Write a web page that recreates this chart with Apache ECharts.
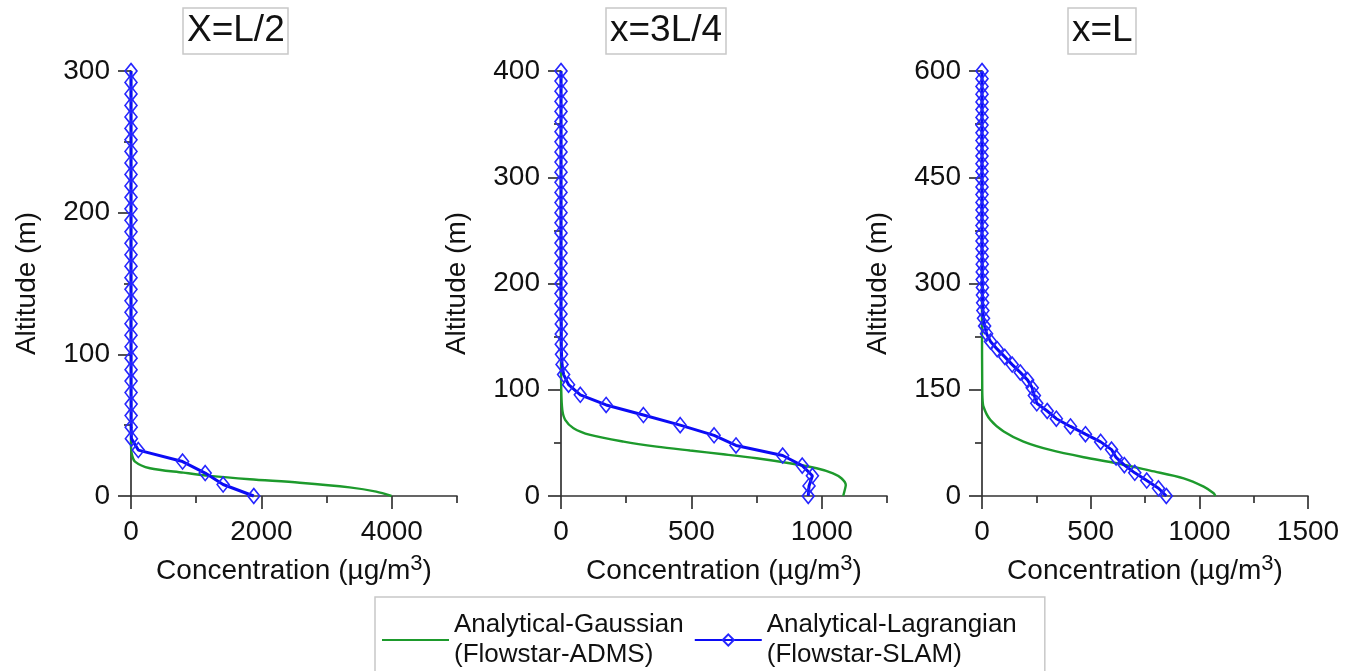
<!DOCTYPE html>
<html>
<head>
<meta charset="utf-8">
<script src="https://cdn.jsdelivr.net/npm/echarts@6/dist/echarts.min.js"></script>
<style>
  html, body { margin: 0; padding: 0; background: #fff; }
  #chart { width: 1349px; height: 671px; }
</style>
</head>
<body>
<div id="chart"></div>
<script>
// Panel titles (downstream distance)
const panelTitles = ['X=L/2', 'x=3L/4', 'x=L'];

// Series names
const gaussName = 'Analytical-Gaussian\n(Flowstar-ADMS)';
const slamName = 'Analytical-Lagrangian\n(Flowstar-SLAM)';

// --- x = L/2 ---
const gaussAltHalf  = [0, 3.1, 6.1, 9.4, 11.8, 14.2, 16.5, 19.6, 24.3, 30.2, 37.2, 300];
const gaussConcHalf = [3995, 3761, 3352, 2587, 1822, 1209, 801, 291, 61, 10, 0, 0];
const slamAltHalf  = [0, 8.1, 16.2, 24.3, 32.4, 40.5, 48.6, 56.8, 64.9, 73.0, 81.1, 89.2, 97.3, 105.4,
  113.5, 121.6, 129.7, 137.8, 145.9, 154.1, 162.2, 170.3, 178.4, 186.5, 194.6, 202.7, 210.8, 218.9,
  227.0, 235.1, 243.2, 251.4, 259.5, 267.6, 275.7, 283.8, 291.9, 300.0];
const slamConcHalf = [1883, 1413, 1138, 791, 112, 6, 3, 2, 2, 1, 1, 1, 1, 1,
  0, 0, 0, 0, 0, 0, 0, 0, 0, 0, 0, 0, 0, 0,
  0, 0, 0, 0, 0, 0, 0, 0, 0, 0];

// --- x = 3L/4 ---
const gaussAltTq  = [0, 5.7, 10.4, 16.7, 21.4, 26.1, 30.8, 35.5, 39.3, 42.8, 46.5, 51.2, 57.5, 63.8, 71.7, 81, 100, 135, 400];
const gaussConcTq = [1082, 1088, 1092, 1075, 1043, 980, 877, 750, 622, 495, 367, 240, 112, 48, 16, 5, 1, 0, 0];
const slamAltTq  = [0, 9.5, 19.0, 28.6, 38.1, 47.6, 57.1, 66.7, 76.2, 85.7, 95.2, 104.8, 114.3, 123.8,
  133.3, 142.9, 152.4, 161.9, 171.4, 181.0, 190.5, 200.0, 209.5, 219.0, 228.6, 238.1, 247.6, 257.1,
  266.7, 276.2, 285.7, 295.2, 304.8, 314.3, 323.8, 333.3, 342.9, 352.4, 361.9, 371.4, 381.0, 390.5, 400.0];
const slamConcTq = [948, 951, 964, 925, 850, 671, 587, 457, 316, 173, 74, 29, 10, 4,
  2, 1, 1, 1, 0, 0, 0, 0, 0, 0, 0, 0, 0, 0,
  0, 0, 0, 0, 0, 0, 0, 0, 0, 0, 0, 0, 0, 0, 0];

// --- x = L ---
const gaussAltFull  = [0, 3.8, 13.2, 25, 35.8, 46.2, 54.7, 65, 76.8, 91, 107.5, 126, 140, 160, 230, 600];
const gaussConcFull = [1074, 1066, 1020, 928, 774, 621, 468, 314, 191, 100, 38, 7, 2, 1, 0, 0];
const slamAltFull  = [0, 10.9, 21.8, 32.7, 43.6, 54.5, 65.5, 76.4, 87.3, 98.2, 109.1, 120.0, 130.9, 141.8,
  152.7, 163.6, 174.5, 185.5, 196.4, 207.3, 218.2, 229.1, 240.0, 250.9, 261.8, 272.7, 283.6, 294.5,
  305.5, 316.4, 327.3, 338.2, 349.1, 360.0, 370.9, 381.8, 392.7, 403.6, 414.5, 425.5, 436.4, 447.3,
  458.2, 469.1, 480.0, 490.9, 501.8, 512.7, 523.6, 534.5, 545.5, 556.4, 567.3, 578.2, 589.1, 600.0];
const slamConcFull = [848, 812, 758, 703, 655, 617, 596, 546, 476, 407, 342, 300, 252, 241,
  231, 210, 176, 139, 105, 70, 39, 21, 12, 7, 4, 3, 2, 2,
  1, 1, 1, 1, 0, 0, 0, 0, 0, 0, 0, 0, 0, 0,
  0, 0, 0, 0, 0, 0, 0, 0, 0, 0, 0, 0, 0, 0];

// Axis ranges and tick values
const xMax = [5000, 1250, 1500];
const xMajor = [[0, 2000, 4000], [0, 500, 1000], [0, 500, 1000, 1500]];
const xMinor = [[1000, 3000, 5000], [250, 750, 1250], [250, 750, 1250]];
const yMax = [300, 400, 600];
const yMajor = [[0, 100, 200, 300], [0, 100, 200, 300, 400], [0, 150, 300, 450, 600]];
const yMinor = [[50, 150, 250], [50, 150, 250, 350], [75, 225, 375, 525]];

const profiles = [
  { gA: gaussAltHalf, gC: gaussConcHalf, sA: slamAltHalf, sC: slamConcHalf },
  { gA: gaussAltTq, gC: gaussConcTq, sA: slamAltTq, sC: slamConcTq },
  { gA: gaussAltFull, gC: gaussConcFull, sA: slamAltFull, sC: slamConcFull }
];

const FONT = '"Liberation Sans", Arial, Helvetica, sans-serif';
const INK = '#111';
const AXIS = '#333';
const GREEN = '#1d9a2c';
const BLUE = '#0b0bf5';

const gridLeft = [131, 561, 982];
const gridTop = 71;
const gridW = 326;
const gridH = 425;
const titleLeft = [183, 606, 1068];

const zip = (c, a) => c.map((v, i) => [v, a[i]]);
const plain = v => String(v);

const grids = [], xAxes = [], yAxes = [], series = [], titles = [];

for (let p = 0; p < 3; p++) {
  grids.push({ left: gridLeft[p], top: gridTop, width: gridW, height: gridH, containLabel: false, outerBoundsMode: 'none' });

  titles.push({
    text: panelTitles[p], left: titleLeft[p], top: 8,
    padding: [3, 4, 3, 4], borderColor: '#c8c8c8', borderWidth: 1.5,
    textStyle: { fontFamily: FONT, fontSize: 37, lineHeight: 40, fontWeight: 'normal', color: INK }
  });

  // main x axis: line, long ticks, labels, name
  xAxes.push({
    gridIndex: p, type: 'value', min: 0, max: xMax[p], position: 'bottom',
    axisLine: { show: true, lineStyle: { color: AXIS, width: 1.7 } },
    axisTick: { show: true, length: 13, customValues: xMajor[p], lineStyle: { color: AXIS, width: 1.7 } },
    axisLabel: { show: true, customValues: xMajor[p], formatter: plain, margin: 22, fontSize: 28, fontFamily: FONT, color: INK },
    splitLine: { show: false },
    name: '{t|Concentration (µg/m}{s|3}{t|)}',
    nameLocation: 'middle', nameGap: 57,
    nameTextStyle: {
      rich: {
        t: { fontSize: 28, fontFamily: FONT, color: INK },
        s: { fontSize: 22, fontFamily: FONT, color: INK, padding: [0, 0, 14, 0] }
      }
    }
  });
  // minor x axis: short ticks only
  xAxes.push({
    gridIndex: p, type: 'value', min: 0, max: xMax[p], position: 'bottom',
    axisLine: { show: false },
    axisTick: { show: true, length: 7, customValues: xMinor[p], lineStyle: { color: AXIS, width: 1.7 } },
    axisLabel: { show: false },
    splitLine: { show: false }
  });

  yAxes.push({
    gridIndex: p, type: 'value', min: 0, max: yMax[p], position: 'left',
    axisLine: { show: true, lineStyle: { color: AXIS, width: 1.7 } },
    axisTick: { show: true, length: 13, customValues: yMajor[p], lineStyle: { color: AXIS, width: 1.7 } },
    axisLabel: { show: true, customValues: yMajor[p], formatter: plain, margin: 21, fontSize: 28, fontFamily: FONT, color: INK },
    splitLine: { show: false },
    name: 'Altitude (m)', nameLocation: 'middle', nameGap: 90, nameRotate: 90,
    nameTextStyle: { fontSize: 28, fontFamily: FONT, color: INK }
  });
  yAxes.push({
    gridIndex: p, type: 'value', min: 0, max: yMax[p], position: 'left',
    axisLine: { show: false },
    axisTick: { show: true, length: 7, customValues: yMinor[p], lineStyle: { color: AXIS, width: 1.7 } },
    axisLabel: { show: false },
    splitLine: { show: false }
  });

  const pr = profiles[p];
  series.push({
    name: gaussName, type: 'line', xAxisIndex: p * 2, yAxisIndex: p * 2,
    data: zip(pr.gC, pr.gA), symbol: 'none', clip: false, z: 2, smooth: 0.3,
    color: GREEN, lineStyle: { color: GREEN, width: 2.4 }
  });
  series.push({
    name: slamName, type: 'line', xAxisIndex: p * 2, yAxisIndex: p * 2,
    data: zip(pr.sC, pr.sA), symbol: 'diamond', symbolSize: [12, 15], showSymbol: true, clip: false, z: 3,
    color: BLUE,
    lineStyle: { color: BLUE, width: 3 },
    itemStyle: { color: 'rgba(255,255,255,0)', borderColor: '#2626ff', borderWidth: 1.6 }
  });
}

const chart = echarts.init(document.getElementById('chart'), null, { renderer: 'canvas' });
chart.setOption({
  backgroundColor: '#fff',
  animation: false,
  title: titles,
  legend: {
    data: [
      { name: gaussName, itemStyle: { opacity: 0 } },
      { name: slamName }
    ],
    left: 375, top: 597, orient: 'horizontal',
    padding: [13, 28, 9, 6],
    itemWidth: 67, itemHeight: 14, itemGap: 10,
    borderColor: '#c8c8c8', borderWidth: 1.5,
    textStyle: { fontFamily: FONT, fontSize: 26, lineHeight: 30, color: INK }
  },
  grid: grids,
  xAxis: xAxes,
  yAxis: yAxes,
  series: series
});
</script>
</body>
</html>
